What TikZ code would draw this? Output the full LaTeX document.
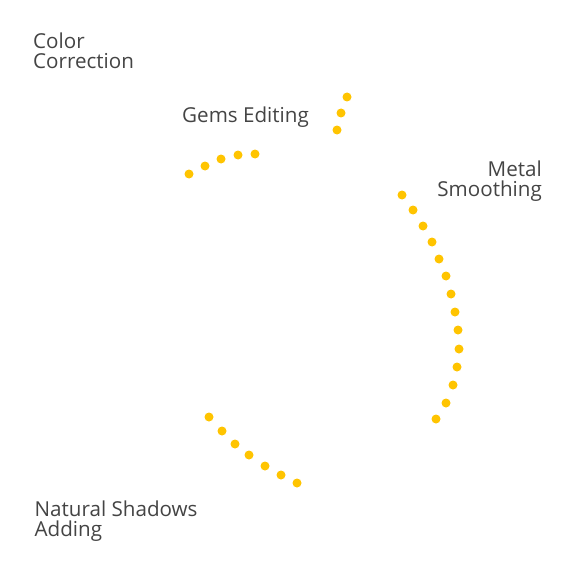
\documentclass[tikz,border=0pt]{standalone}
\usepackage{fontspec}
\setmainfont{Open Sans}
\definecolor{dotyellow}{HTML}{FFC400}
\definecolor{labelgray}{HTML}{444444}
\begin{document}
\begin{tikzpicture}[x=1pt,y=-1pt,
  dot/.style={fill=dotyellow,draw=none,circle,minimum size=9pt,inner sep=0pt},
  lbl/.style={text=labelgray,font=\fontsize{20.6}{20}\selectfont,inner sep=0pt}]
\useasboundingbox (0,0) rectangle (575,575);
% labels (base anchor of two-line nodes = baseline of last line)
\node[lbl,anchor=base west,align=left] (color) at (33,68.5) {Color\\Correction};
\node[lbl,anchor=base west] (gems) at (182,122.3) {Gems Editing};
\node[lbl,anchor=base east,align=right] (metal) at (542,196) {Metal\\Smoothing};
\node[lbl,anchor=base west,align=left] (shadows) at (34.5,536.7) {Natural Shadows\\Adding};
% top-right group
\foreach \i/\p in {1/{(347,97)},2/{(341,113)},3/{(337,130)}}
  \node[dot] (g\i) at \p {};
% top-left group
\foreach \i/\p in {1/{(189,174)},2/{(205,166)},3/{(221,159)},4/{(238,155)},5/{(255,154)}}
  \node[dot] (c\i) at \p {};
% right arc
\foreach \i/\p in {1/{(402,195)},2/{(413,210)},3/{(423,226)},4/{(432,242)},5/{(439,259)},6/{(446,276)},7/{(451,294)},8/{(455,312)},9/{(458,330)},10/{(459,349)},11/{(457,367)},12/{(453,385)},13/{(446,403)},14/{(436,419)}}
  \node[dot] (m\i) at \p {};
% bottom-left group
\foreach \i/\p in {1/{(209,417)},2/{(222,431)},3/{(235,444)},4/{(249,455)},5/{(265,466)},6/{(281,475)},7/{(297,483)}}
  \node[dot] (s\i) at \p {};
\end{tikzpicture}
\end{document}
